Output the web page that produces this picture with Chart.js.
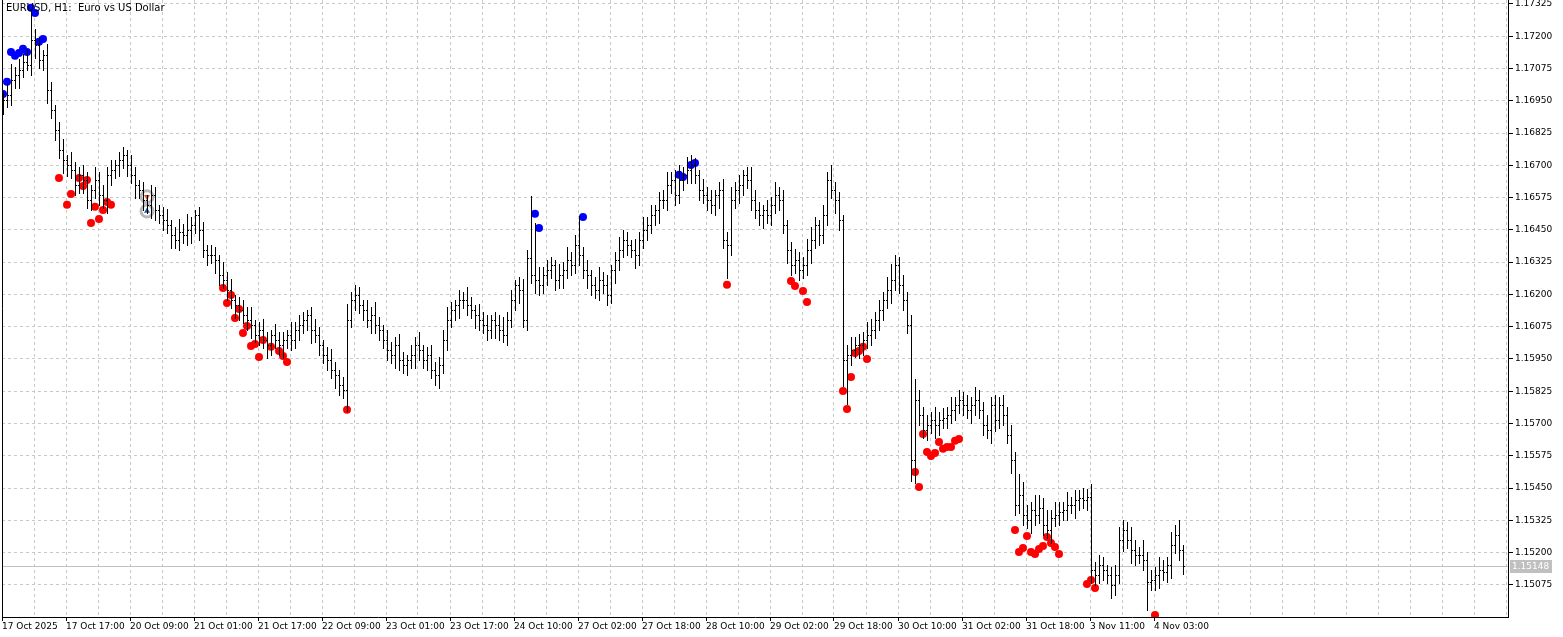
<!DOCTYPE html>
<html><head><meta charset="utf-8">
<script src="https://cdn.jsdelivr.net/npm/chart.js@4.4.0/dist/chart.umd.min.js"></script>
<style>html,body{margin:0;padding:0;background:#fff;overflow:hidden;}canvas{display:block;}</style>
</head><body><canvas id="c" width="1563" height="637" style="width:1563px;height:637px"></canvas>
<script>
const closes=[1.16954,1.16973,1.17031,1.17050,1.17070,1.17101,1.17089,
1.17186,1.17166,1.17108,1.17128,
1.16992,1.16915,1.16837,1.16760,1.16721,1.16700,
1.16682,1.16624,1.16663,1.16643,1.16566,1.16605,1.16643,1.16585,1.16566,1.16663,1.16682,1.16700,1.16721,1.16740,1.16700,
1.16663,1.16624,1.16605,1.16566,1.16547,1.16585,1.16527,1.16508,1.16489,
1.16469,1.16430,1.16411,1.16442,1.16430,1.16450,1.16469,1.16508,1.16450,1.16373,1.16353,
1.16353,1.16334,1.16276,1.16256,1.16218,1.16179,1.16160,1.16140,1.16121,1.16102,1.16082,1.16044,1.16063,1.16024,1.16005,1.16044,1.16024,1.16005,1.16024,
1.16044,1.16024,1.16063,1.16082,1.16102,1.16121,1.16063,1.16044,1.16005,1.15966,1.15947,1.15908,1.15888,1.15850,1.15830,
1.16102,1.16179,1.16198,1.16160,1.16140,1.16102,1.16121,1.16082,1.16063,1.16024,1.15986,
1.15966,1.16005,1.15947,1.15927,1.15947,1.15966,1.16005,1.15986,1.15947,1.15966,1.15908,1.15888,1.15927,1.16024,
1.16102,1.16140,1.16160,1.16179,1.16179,1.16160,1.16140,1.16121,1.16102,1.16082,1.16063,1.16102,1.16082,1.16063,1.16044,1.16102,1.16179,1.16237,1.16218,1.16102,
1.16341,1.16276,1.16256,1.16237,1.16276,1.16295,1.16314,1.16256,1.16276,1.16295,1.16334,1.16314,1.16392,1.16353,1.16295,
1.16276,1.16237,1.16218,1.16256,1.16237,1.16198,1.16295,1.16334,1.16373,1.16411,1.16392,1.16373,1.16353,1.16411,1.16450,
1.16469,1.16508,1.16527,1.16566,1.16566,1.16624,1.16643,1.16585,1.16643,1.16663,1.16682,1.16700,1.16663,1.16605,1.16585,
1.16566,1.16547,1.16585,1.16605,1.16411,1.16392,1.16566,1.16605,1.16624,1.16663,1.16643,1.16566,1.16527,1.16508,1.16527,1.16508,1.16547,1.16585,1.16566,1.16469,
1.16373,1.16314,1.16334,1.16295,1.16314,1.16373,1.16411,1.16469,1.16430,1.16508,1.16643,1.16605,1.16566,1.16489,
1.15947,1.15966,1.15986,1.16005,1.16005,1.16024,1.16044,1.16063,1.16102,1.16140,1.16179,1.16218,1.16256,1.16314,1.16237,1.16179,
1.16082,1.15559,1.15791,
1.15733,1.15675,1.15694,1.15713,1.15694,1.15713,1.15721,1.15733,1.15752,1.15772,1.15791,1.15772,1.15752,1.15772,1.15791,1.15752,1.15694,1.15675,1.15772,1.15713,1.15772,1.15733,1.15656,1.15559,1.15385,1.15423,1.15346,
1.15327,1.15365,1.15346,1.15373,1.15307,1.15288,1.15334,1.15346,1.15357,1.15365,1.15385,1.15385,1.15404,1.15412,1.15404,1.15416,
1.15133,1.15114,1.15152,1.15133,1.15114,1.15075,1.15114,1.15248,1.15287,1.15248,1.15210,1.15191,1.15191,1.15172,1.15087,1.15094,1.15114,1.15133,1.15125,1.15152,1.15229,1.15268,1.15210,1.15148];
const upWick=[3,4,6,3,4,3,5,12,4,3, 2,4,3,2,3,4,2,5,3,3, 4,3,2,5,3,4,3,4,2,3, 3,2,4,3,2,3,2,4,3,2,
3,4,2,3,5,3,6,3,2,3, 3,2,4,3,2,5,3,4,2,3, 4,3,5,2,3,4,3,2,4,3, 3,2,5,3,4,3,2,3,4,3,
2,3,4,3,2,3,6,3,4,3, 2,4,3,5,3,2,4,3,3,4, 3,2,4,3,5,2,3,4,3,3, 4,5,3,2,4,3,5,3,2,4,
3,4,2,3,4,5,3,4,2,3, 4,3,24,20,5,3,4,3,2,4, 3,5,3,4,11,3,4,2,3,5, 3,4,2,3,5,4,3,2,4,3,
5,3,4,2,3,4,5,3,4,6, 3,5,4,3,2,4,3,4,2,3, 4,3,5,3,4,2,3,5,4,3, 2,4,3,5,3,4,2,3,4,3,
3,4,5,3,2,4,3,6,3,3, 2,4,5,3,4,3,5,4,3,4, 3,5,6,4,3,4,3,4,8,4, 3,4,3,5,3,4,3,5,3,4,
3,4,3,5,4,3,4,3,4,3, 4,3,4,3,8,5,4,3,6,5, 4,6,3,5,4,3,5,3,4,3, 4,3,5,3,4,3,2,3,4,5,
4,3,5,4,3,6,3,4,3,5, 4,3,5,4,6,2];
const downWick=[3,3,4,3,5,3,2,4,5,3, 4,5,3,4,3,5,4,3,4,3, 5,3,4,3,4,3,5,4,3,4, 3,4,3,5,3,4,3,5,4,3,
4,3,5,3,4,3,4,5,3,4, 3,4,3,5,4,3,4,3,5,4, 3,4,5,3,4,3,5,4,3,4, 5,3,4,3,4,3,4,5,3,4,
3,4,3,5,4,3,8,3,4,3, 4,3,5,3,4,3,4,3,5,4, 3,4,3,5,4,3,4,3,4,5, 3,4,3,4,5,3,4,3,5,4,
3,4,3,5,4,3,4,3,4,5, 3,4,3,5,4,3,4,3,4,3, 5,3,4,3,4,3,5,4,3,4, 3,4,3,5,4,3,4,3,5,4,
3,4,3,4,5,3,4,3,4,3, 4,3,5,3,4,3,4,3,4,5, 3,13,4,3,5,4,3,4,3,4, 5,3,4,3,4,3,5,4,3,4,
3,4,5,3,4,3,4,3,5,4, 10,17,4,3,5,4,3,4,3,4, 4,3,5,4,3,4,3,8,9,4, 3,4,3,5,4,3,4,3,4,3,
4,3,5,4,3,4,3,5,4,3, 4,3,5,4,3,4,3,5,4,3, 4,3,5,3,4,3,4,3,5,4, 3,4,5,4,3,4,3,5,4,3,
4,3,5,4,3,4,11,3,4,5, 3,4,5,3,4,3];
const redIdx=[14,16,17,19,20,21,22,23,24,25,26,27, 55,56,57,58,59,60,61,62,63,64,65,67,69,70,71,86,
181,197,198,200,201,210,211,212,213,214,215,216,
228,229,230,231,232,233,234,235,236,237,238,239,
253,254,255,256,257,258,259,260,261,262,263,264,271,272,273,288];
const redPrice=[1.16651,1.16547,1.16589,1.16651,1.16620,1.16643,1.16477,1.16539,1.16492,1.16527,1.16558,1.16547,
1.16225,1.16167,1.16198,1.16109,1.16144,1.16051,1.16078,1.16000,1.16008,1.15958,1.16024,1.15997,1.15981,1.15962,1.15938,1.15753,
1.16237,1.16252,1.16233,1.16213,1.16171,1.15826,1.15756,1.15880,1.15973,1.15981,1.15997,1.15950,
1.15512,1.15454,1.15660,1.15590,1.15574,1.15586,1.15629,1.15602,1.15609,1.15609,1.15633,1.15640,
1.15288,1.15203,1.15218,1.15265,1.15203,1.15195,1.15214,1.15226,1.15261,1.15238,1.15222,1.15195,1.15079,1.15094,1.15063,1.14959];
const blueIdx=[0,1,2,3,4,5,6,7,8,9,10,133,134,145,169,170,172,173];
const bluePrice=[1.16976,1.17023,1.17139,1.17124,1.17135,1.17151,1.17139,1.17310,1.17290,1.17178,1.17189,1.16512,1.16457,1.16500,1.16663,1.16655,1.16701,1.16709];
const signalIdx=[36];
const sellSignal=[1.16578];
const buySignal=[1.16523];
const priceTicks=[1.17325,1.17200,1.17075,1.16950,1.16825,1.16700,1.16575,1.16450,1.16325,1.16200,1.16075,1.15950,1.15825,1.15700,1.15575,1.15450,1.15325,1.15200,1.15075];
const timeLabels=['17 Oct 2025','17 Oct 17:00','20 Oct 09:00','21 Oct 01:00','21 Oct 17:00','22 Oct 09:00','23 Oct 01:00','23 Oct 17:00','24 Oct 10:00','27 Oct 02:00','27 Oct 18:00','28 Oct 10:00','29 Oct 02:00','29 Oct 18:00','30 Oct 10:00','31 Oct 02:00','31 Oct 18:00','3 Nov 11:00','4 Nov 03:00'];
const lastPrice=1.15148;
const title='EURUSD, H1:  Euro vs US Dollar';

const opens=closes.map((c,i)=>i===0?1.16930:closes[i-1]);
const highs=closes.map((c,i)=>Math.max(c,opens[i])+upWick[i]*0.0001);
const lows=closes.map((c,i)=>Math.min(c,opens[i])-downWick[i]*0.0001);
const FONT='"DejaVu Sans", sans-serif';

const ohlc={id:'ohlc',afterDatasetsDraw(ch){
  const x=ch.scales.x,y=ch.scales.y,ctx=ch.ctx;
  ctx.save();ctx.strokeStyle='#000';ctx.lineWidth=1;ctx.beginPath();
  closes.forEach((c,i)=>{
    const px=Math.round(x.getPixelForValue(i))+0.5;
    const ph=Math.round(y.getPixelForValue(highs[i]));
    const pl=Math.round(y.getPixelForValue(lows[i]));
    const po=Math.round(y.getPixelForValue(opens[i]))+0.5;
    const pc=Math.round(y.getPixelForValue(c))+0.5;
    ctx.moveTo(px,ph);ctx.lineTo(px,pl+1);
    ctx.moveTo(px-1.5,po);ctx.lineTo(px,po);
    ctx.moveTo(px,pc);ctx.lineTo(px+1.5,pc);
  });
  ctx.stroke();ctx.restore();
}};
const deco={id:'deco',beforeDatasetsDraw(ch){
  const a=ch.chartArea,ctx=ch.ctx,y=ch.scales.y;
  const py=Math.round(y.getPixelForValue(lastPrice))+0.5;
  ctx.save();ctx.strokeStyle='#c0c0c0';ctx.lineWidth=1;
  ctx.beginPath();ctx.moveTo(a.left,py);ctx.lineTo(a.right,py);ctx.stroke();ctx.restore();
},afterDraw(ch){
  const a=ch.chartArea,ctx=ch.ctx,y=ch.scales.y;
  ctx.save();
  ctx.strokeStyle='#000';ctx.lineWidth=1;
  ctx.beginPath();ctx.moveTo(Math.round(a.left)+0.5,a.top);ctx.lineTo(Math.round(a.left)+0.5,a.bottom);ctx.stroke();
  const py=Math.round(y.getPixelForValue(lastPrice));
  ctx.fillStyle='#c0c0c0';ctx.fillRect(a.right+2,py-6,42,13);
  ctx.fillStyle='#fff';ctx.font='9px '+FONT;ctx.textBaseline='middle';ctx.textAlign='left';
  ctx.fillText(lastPrice.toFixed(5),a.right+4,py+0.5);
  ctx.fillStyle='#000';ctx.font='10px '+FONT;ctx.textBaseline='top';
  ctx.fillText(title,a.left+4,a.top+3);
  ctx.restore();
}};

new Chart(document.getElementById('c'),{
  type:'scatter',
  data:{datasets:[
    {data:redIdx.map((v,i)=>({x:v,y:redPrice[i]})),backgroundColor:'#ff0000',borderWidth:0,pointRadius:4,order:1},
    {data:blueIdx.map((v,i)=>({x:v,y:bluePrice[i]})),backgroundColor:'#0000ff',borderWidth:0,pointRadius:4,order:1},
    {data:signalIdx.map((v,i)=>({x:v,y:sellSignal[i]})).concat(signalIdx.map((v,i)=>({x:v,y:buySignal[i]}))),backgroundColor:'#fff',borderColor:'#b8b8b8',borderWidth:3,pointRadius:6,order:2},
    {data:signalIdx.map((v,i)=>({x:v,y:sellSignal[i]})),pointStyle:'triangle',rotation:180,backgroundColor:'#e8502a',borderWidth:0,pointRadius:3.5,order:0},
    {data:signalIdx.map((v,i)=>({x:v,y:buySignal[i]})),pointStyle:'triangle',backgroundColor:'#1060b0',borderWidth:0,pointRadius:3.5,order:0}
  ]},
  options:{responsive:false,animation:false,devicePixelRatio:1,
    layout:{autoPadding:false,padding:{left:2,top:0,right:0,bottom:0}},
    plugins:{legend:{display:false},tooltip:{enabled:false},title:{display:false}},
    scales:{
      x:{type:'linear',min:-0.25,max:376.25,offset:false,
        afterBuildTicks(s){const t=[];for(let k=0;k<=47;k++)t.push({value:-0.25+8*k});s.ticks=t;},
        afterFit(s){s.height=20;s.paddingLeft=0;s.paddingRight=0;},
        grid:{color:'#c8c8c8',tickLength:4,tickColor:(c)=>(c.index%2===0&&c.index/2<timeLabels.length)?'#000':'rgba(0,0,0,0)',tickBorderDash:[],offset:false},
        border:{display:true,color:'#000',dash:[3,3]},
        ticks:{autoSkip:false,maxRotation:0,align:'start',padding:0,color:'#000',font:{family:FONT,size:9},
          callback:(v,i)=>(i%2===0&&i/2<timeLabels.length)?timeLabels[i/2]:''}
      },
      y:{type:'linear',position:'right',min:1.14951,max:1.17340,
        afterBuildTicks(s){s.ticks=priceTicks.map(v=>({value:v}));},
        afterFit(s){s.width=55;s.paddingTop=0;s.paddingBottom=0;},
        grid:{color:'#c8c8c8',tickLength:5,tickColor:'#000',tickBorderDash:[]},
        border:{display:true,color:'#000',dash:[3,3]},
        ticks:{padding:2,color:'#000',font:{family:FONT,size:9},callback:v=>v.toFixed(5)}
      }
    }
  },
  plugins:[ohlc,deco]
});
</script></body></html>
